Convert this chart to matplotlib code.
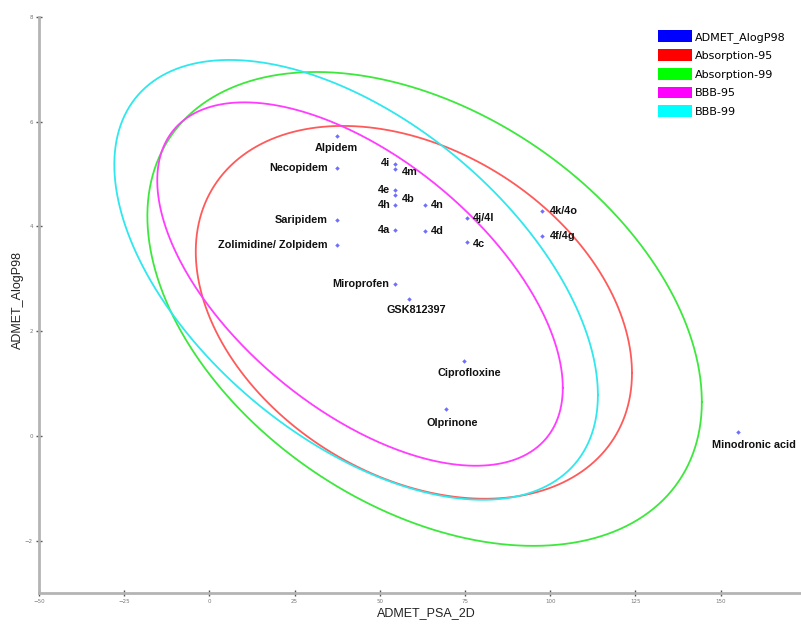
import numpy as np
import matplotlib
matplotlib.use("Agg")
import matplotlib.pyplot as plt
from matplotlib.patches import Patch

# compounds (PSA_2D, AlogP98)
names = ["Alpidem", "Necopidem", "Saripidem", "Zolimidine/ Zolpidem",
         "4i", "4m", "4e", "4b", "4h", "4a", "4n", "4d",
         "4j/4l", "4c", "4k/4o", "4f/4g",
         "Miroprofen", "GSK812397", "Ciprofloxine", "Olprinone", "Minodronic acid"]
psa = [37.3, 37.3, 37.3, 37.3,
       54.6, 54.6, 54.6, 54.6, 54.6, 54.6, 63.4, 63.4,
       75.5, 75.5, 97.5, 97.5,
       54.6, 58.7, 74.6, 69.5, 155.0]
alogp = [5.73, 5.11, 4.12, 3.64,
         5.20, 5.10, 4.69, 4.60, 4.41, 3.93, 4.41, 3.91,
         4.16, 3.70, 4.29, 3.82,
         2.90, 2.61, 1.43, 0.52, 0.08]

# ellipses: x range, y range, y at rightmost point
ell_names = ["Absorption-95", "Absorption-99", "BBB-95", "BBB-99"]
ell_xmin = [-4.0, -18.2, -15.3, -27.9]
ell_xmax = [124.0, 144.5, 103.7, 114.0]
ell_ymin = [-1.20, -2.10, -0.57, -1.22]
ell_ymax = [5.92, 6.95, 6.37, 7.18]
ell_yright = [1.20, 0.65, 0.92, 0.78]
ell_colors = ["#ff5a5a", "#3de83d", "#ff3cff", "#2ee8ee"]

legend_labels = ["ADMET_AlogP98", "Absorption-95", "Absorption-99", "BBB-95", "BBB-99"]
legend_colors = ["#0000ff", "#ff0000", "#00ff00", "#ff00ff", "#00ffff"]

# label placement: (ha, dx, dy) in pixels
place = {
    "Alpidem": ("center", 0, -12), "Necopidem": ("right", -9, 0),
    "Saripidem": ("right", -9, 0), "Zolimidine/ Zolpidem": ("right", -9, 0),
    "4i": ("right", -5, 1), "4m": ("left", 6, -3), "4e": ("right", -5, 0),
    "4b": ("left", 6, -4), "4h": ("right", -5, 0), "4a": ("right", -5, 0),
    "4n": ("left", 5, 0), "4d": ("left", 5, 0), "4j/4l": ("left", 6, 0),
    "4c": ("left", 6, -2), "4k/4o": ("left", 8, 0), "4f/4g": ("left", 8, 0),
    "Miroprofen": ("right", -6, 0), "GSK812397": ("center", 7, -11),
    "Ciprofloxine": ("center", 6, -12), "Olprinone": ("center", 6, -14),
    "Minodronic acid": ("left", -26, -13),
}

W, H = 801, 631
fig = plt.figure(figsize=(W / 100, H / 100), dpi=100)
ax = fig.add_axes([39 / W, 1 - 593 / H, 1 - 39 / W, 576 / H])
ax.set_xlim(-50, 173.6)
ax.set_ylim(-3, 8)

for s in ["top", "right"]:
    ax.spines[s].set_visible(False)
for s in ["left", "bottom"]:
    ax.spines[s].set_color("#b4b4b4")
    ax.spines[s].set_linewidth(2)
ax.set_xticks([-50, -25, 0, 25, 50, 75, 100, 125, 150])
ax.set_yticks([-2, 0, 2, 4, 6, 8])
ax.tick_params(direction="inout", length=5, width=1, color="#555555",
               labelsize=4, labelcolor="#777777", pad=2)

t = np.linspace(0, 2 * np.pi, 400)
for i in range(len(ell_names)):
    cx = (ell_xmin[i] + ell_xmax[i]) / 2
    cy = (ell_ymin[i] + ell_ymax[i]) / 2
    a = (ell_xmax[i] - ell_xmin[i]) / 2
    b = (ell_ymax[i] - ell_ymin[i]) / 2
    phi = np.arccos((ell_yright[i] - cy) / b)
    ax.plot(cx + a * np.cos(t), cy + b * np.cos(t + phi),
            color=ell_colors[i], lw=1.3, zorder=2)

ax.plot(psa, alogp, "D", color="#6e6eff", ms=2.3, mec="none", zorder=3)

for n, x, y in zip(names, psa, alogp):
    ha, dx, dy = place[n]
    ax.annotate(n, (x, y), xytext=(dx, dy), textcoords="offset pixels",
                ha=ha, va="center", fontsize=7.8, fontweight="bold",
                family="Liberation Sans", color="#111111",
                annotation_clip=False, zorder=4)

fig.text(18 / W, 1 - 300 / H, "ADMET_AlogP98", rotation=90, ha="center",
         va="center", fontsize=9, family="Liberation Sans", color="#222222")
fig.text(426 / W, 1 - 613 / H, "ADMET_PSA_2D", ha="center", va="center",
         fontsize=9, family="Liberation Sans", color="#222222")

handles = [Patch(facecolor=c, edgecolor="none") for c in legend_colors]
fig.legend(handles, legend_labels, loc="upper left",
           bbox_to_anchor=(658 / W, 1 - 30 / H), frameon=False,
           fontsize=8, handlelength=3.1, handleheight=1.25,
           handletextpad=0.2, labelspacing=0.62, borderpad=0,
           borderaxespad=0)

fig.savefig("out.png", dpi=100)
